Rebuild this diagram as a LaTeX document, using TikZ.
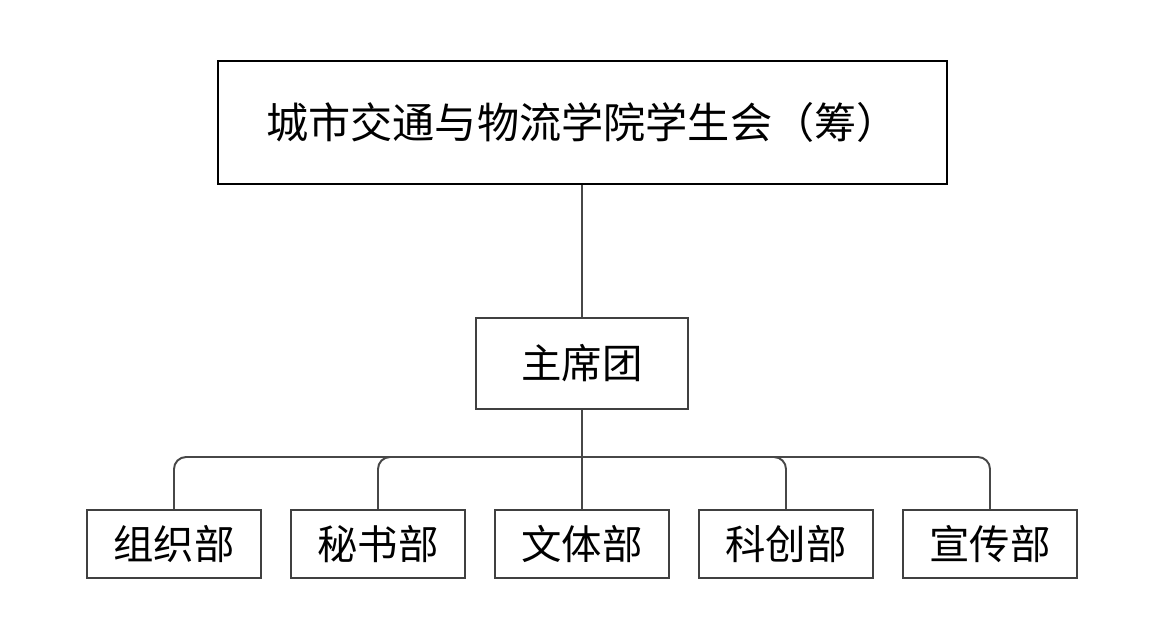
\documentclass[tikz,border=0pt]{standalone}
\usepackage{fontspec}
\newfontfamily\cjk{Noto Sans CJK SC}
\usetikzlibrary{positioning}

\begin{document}
\begin{tikzpicture}[x=0.02cm, y=-0.02cm, font=\cjk\fontsize{23}{28}\selectfont,
    box/.style={draw, line width=1.1pt, rectangle, inner sep=0pt, align=center},
    link/.style={draw=black!72, line width=1.1pt}]
  \useasboundingbox (0,0) rectangle (1165,637);
  \node[box, minimum width=14.58cm, minimum height=2.46cm, font=\cjk\fontsize{24}{29}\selectfont] (hui) at (582.5,122.5) {城市交通与物流学院学生会（筹）};
  \node[box, draw=black!75, minimum width=4.24cm, minimum height=1.82cm] (zxt) at (582,363.5) {主席团};

  \node[box, draw=black!75, minimum width=3.48cm, minimum height=1.36cm] (zz) at (174,544) {组织部};
  \node[box, draw=black!75, minimum width=3.48cm, minimum height=1.36cm] (ms) at (378,544) {秘书部};
  \node[box, draw=black!75, minimum width=3.48cm, minimum height=1.36cm] (wt) at (582,544) {文体部};
  \node[box, draw=black!75, minimum width=3.48cm, minimum height=1.36cm] (kc) at (786,544) {科创部};
  \node[box, draw=black!75, minimum width=3.48cm, minimum height=1.36cm] (xc) at (990,544) {宣传部};

  \coordinate (bus) at (582,457);
  \draw[link] (zxt |- hui.south) -- (zxt.north);
  \draw[link] (zxt.south) -- (wt.north);
  \draw[link, rounded corners=0.24cm] (bus) -| (zz.north);
  \draw[link, rounded corners=0.24cm] (bus) -| (ms.north);
  \draw[link, rounded corners=0.24cm] (bus) -| (kc.north);
  \draw[link, rounded corners=0.24cm] (bus) -| (xc.north);
\end{tikzpicture}
\end{document}
